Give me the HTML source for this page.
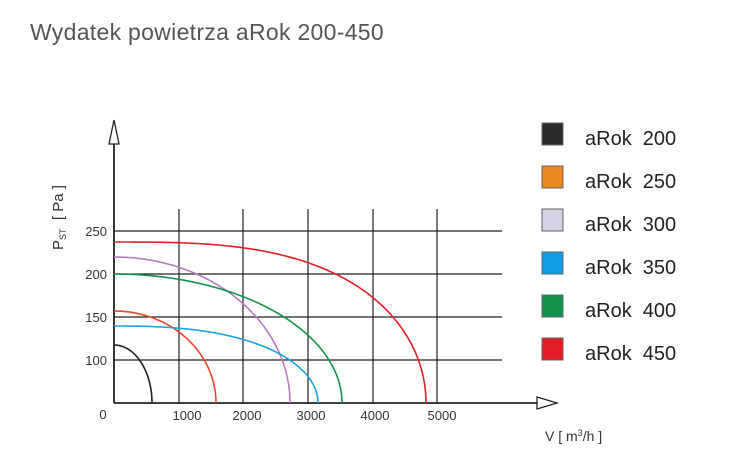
<!DOCTYPE html>
<html><head><meta charset="utf-8"><style>
html,body{margin:0;padding:0;background:#fff;}
svg{display:block;font-family:"Liberation Sans",sans-serif;}
text{white-space:pre;}
</style></head><body>
<svg id="s" width="750" height="469" viewBox="0 0 750 469" xmlns="http://www.w3.org/2000/svg">
<text x="30" y="40" font-size="23" fill="#555" letter-spacing="0.3">Wydatek powietrza aRok 200-450</text>
<g stroke="#222" stroke-width="1.2" fill="none">
<line x1="179" y1="209" x2="179" y2="403"/>
<line x1="243" y1="209" x2="243" y2="403"/>
<line x1="308" y1="209" x2="308" y2="403"/>
<line x1="373" y1="209" x2="373" y2="403"/>
<line x1="437" y1="209" x2="437" y2="403"/>
<line x1="114" y1="231" x2="502" y2="231"/>
<line x1="114" y1="274" x2="502" y2="274"/>
<line x1="114" y1="317" x2="502" y2="317"/>
<line x1="114" y1="360" x2="502" y2="360"/>
</g>
<g stroke="#222" stroke-width="1.8" fill="#fff">
<line x1="114" y1="403" x2="540" y2="403"/>
<line x1="114" y1="403" x2="114" y2="142"/>
<polygon points="537,397 557,403 537,409" stroke-width="1.3"/>
<polygon points="109,144 114,120 119,144" stroke-width="1.3"/>
</g>
<g id="curves" fill="none" stroke-width="1.6"></g>
<g font-size="13" fill="#333">
<text x="107" y="236" text-anchor="end">250</text>
<text x="107" y="279" text-anchor="end">200</text>
<text x="107" y="322" text-anchor="end">150</text>
<text x="107" y="365" text-anchor="end">100</text>
<text x="103" y="419" text-anchor="middle">0</text>
<text x="187" y="420" text-anchor="middle">1000</text>
<text x="247" y="420" text-anchor="middle">2000</text>
<text x="311" y="420" text-anchor="middle">3000</text>
<text x="375" y="420" text-anchor="middle">4000</text>
<text x="442" y="420" text-anchor="middle">5000</text>
</g>
<text transform="translate(63,250) rotate(-90)" font-size="15" fill="#333">P<tspan font-size="9" dy="3">ST</tspan><tspan dy="-3">  [ Pa ]</tspan></text>
<text x="545" y="441" font-size="14" fill="#333">V [ m<tspan font-size="9" dy="-5">3</tspan><tspan dy="5">/h ]</tspan></text>
<g stroke="#666" stroke-width="1">
<rect x="542" y="123" width="21" height="22" fill="#2a2a2a"/>
<rect x="542" y="166" width="21" height="22" fill="#ea8720"/>
<rect x="542" y="209" width="21" height="22" fill="#d3d2e6"/>
<rect x="542" y="252" width="21" height="22" fill="#0f9de3"/>
<rect x="542" y="295" width="21" height="22" fill="#12924a"/>
<rect x="542" y="338" width="21" height="22" fill="#e31e26"/>
</g>
<g font-size="20" fill="#222">
<text x="585" y="145">aRok  200</text>
<text x="585" y="188">aRok  250</text>
<text x="585" y="231">aRok  300</text>
<text x="585" y="274">aRok  350</text>
<text x="585" y="317">aRok  400</text>
<text x="585" y="360">aRok  450</text>
</g>
</svg>
<script>
var c=[["#222",58,152,2],["#e8482c",92,216,2],["#b77bc0",146,290,2],["#1aa4e6",77,318,2.5],["#14934a",129,342,2],["#e31e26",161,426,3]];
var g=document.getElementById("curves"),ns="http://www.w3.org/2000/svg";
c.forEach(function(k){var d="";var y0=k[1],w=k[2]-114;
for(var i=0;i<=200;i++){var f=1-Math.pow(1-i/200,1.6);var x=114+w*f;var y=403-y0*Math.sqrt(Math.max(0,1-Math.pow(f,k[3])));d+=(i?"L":"M")+x.toFixed(2)+","+y.toFixed(2);}
var p=document.createElementNS(ns,"path");p.setAttribute("d",d);p.setAttribute("stroke",k[0]);g.appendChild(p);});
</script>
</body></html>
